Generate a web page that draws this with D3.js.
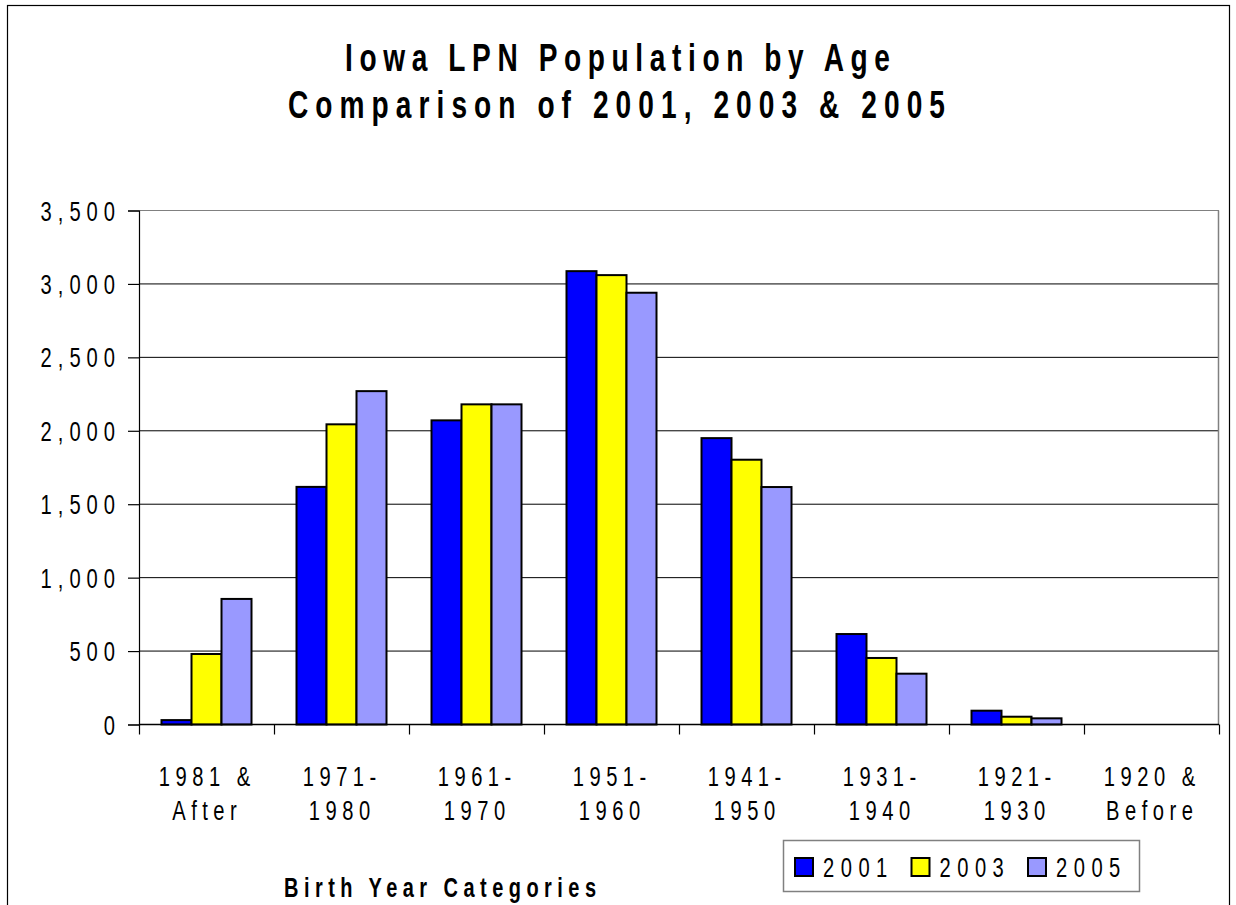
<!DOCTYPE html>
<html><head><meta charset="utf-8">
<script src="https://cdn.jsdelivr.net/npm/d3@7"></script>
<style>
body{margin:0;background:#fff;}
text{font-family:"Liberation Sans",Arial,sans-serif;fill:#000;}
</style></head>
<body><svg id="chart" width="1236" height="905"></svg>
<script>
const titleLines = ["Iowa LPN Population by Age", "Comparison of 2001, 2003 & 2005"];
const xTitle = "Birth Year Categories";
const categories = ["1981 & After", "1971- 1980", "1961- 1970", "1951- 1960", "1941- 1950", "1931- 1940", "1921- 1930", "1920 & Before"];
const categoryLines = [["1981 &","After"],["1971-","1980"],["1961-","1970"],["1951-","1960"],["1941-","1950"],["1931-","1940"],["1921-","1930"],["1920 &","Before"]];
const seriesNames = ["2001", "2003", "2005"];
const values2001 = [30, 1618, 2071, 3087, 1950, 616, 94, 0];
const values2003 = [480, 2044, 2180, 3060, 1803, 453, 53, 0];
const values2005 = [855, 2270, 2180, 2940, 1617, 346, 42, 0];
const seriesColors = ["#0000FF", "#FFFF00", "#9999FF"];
const yTicks = [0, 500, 1000, 1500, 2000, 2500, 3000, 3500];

const seriesValues = [values2001, values2003, values2005];
const svg = d3.select("#chart");

// narrow text helper: horizontally condensed Liberation Sans with spacing
function label(parent, x, y, str, o) {
  const sx = o.sx || 0.72, ls = o.ls || 0, anchor = o.anchor || "start";
  const shift = anchor === "middle" ? ls / 2 : anchor === "end" ? ls : 0;
  const g = parent.append("g").attr("transform", `translate(${x + shift},${y}) scale(${sx},1)`);
  const t = g.append("text").attr("text-anchor", anchor)
    .style("font-size", o.size + "px").style("font-weight", o.weight || "normal")
    .style("letter-spacing", (ls / sx) + "px").text(str);
  if (o.width) t.attr("textLength", o.width / sx).attr("lengthAdjust", "spacing");
  return t;
}

// outer border
svg.append("rect").attr("x",7.5).attr("y",5.5).attr("width",1222).attr("height",910)
  .attr("fill","none").attr("stroke","#000").attr("stroke-width",1.2);

const pLeft = 139, pRight = 1219, pTop = 210.5, pBottom = 724.5;
const x = d3.scaleBand().domain(categories).range([pLeft, pRight]).paddingInner(1/3).paddingOuter(1/6);
const xs = d3.scaleBand().domain(seriesNames).range([0, x.bandwidth()]);
const y = d3.scaleLinear().domain([0, 3500]).range([pBottom, pTop]);
const fmt = d3.format(",");

// gridlines
svg.append("g").selectAll("line").data(yTicks.filter(d => d > 0)).join("line")
  .attr("x1", pLeft).attr("x2", pRight).attr("y1", d => y(d)).attr("y2", d => y(d))
  .attr("stroke", d => d === 3500 ? "#808080" : "#000").attr("stroke-width", 1);
// right border of plot area
svg.append("line").attr("x1", pRight-0.5).attr("x2", pRight-0.5).attr("y1", pTop).attr("y2", pBottom)
  .attr("stroke","#808080").attr("stroke-width",1.5);

// bars
const groups = svg.append("g").selectAll("g").data(categories).join("g")
  .attr("transform", d => `translate(${x(d)},0)`);
groups.selectAll("rect").data((d, i) => seriesNames.map((s, j) => ({s, v: seriesValues[j][i], j})))
  .join("rect")
  .filter(d => d.v > 0)
  .attr("x", d => xs(d.s)).attr("width", xs.bandwidth())
  .attr("y", d => y(d.v)).attr("height", d => y(0) - y(d.v))
  .attr("fill", d => seriesColors[d.j]).attr("stroke", "#000").attr("stroke-width", 2);

// y axis
const yAxis = d3.axisLeft(y).tickValues(yTicks).tickSize(11).tickPadding(0).tickFormat(fmt);
const yg = svg.append("g").attr("transform", `translate(${pLeft},0)`).call(yAxis);
yg.select(".domain").attr("stroke","#000").attr("stroke-width",1.2);
yg.selectAll(".tick line").attr("stroke","#000").attr("stroke-width",1.2);
yg.selectAll(".tick text").remove();
const ylab = svg.append("g");
yTicks.forEach(d => label(ylab, 115, y(d) + 10, fmt(d), {size: 28, anchor: "end", ls: 6}));

// x axis
const xAxisScale = d3.scaleLinear().domain([0, categories.length]).range([pLeft, pRight]);
const xg = svg.append("g").attr("transform", `translate(0,${pBottom})`)
  .call(d3.axisBottom(xAxisScale).tickValues(d3.range(0, categories.length + 1)).tickSize(10).tickFormat(""));
xg.select(".domain").attr("stroke","#000").attr("stroke-width",1.5).attr("d", `M${pLeft},0H${pRight}`);
xg.selectAll(".tick line").attr("stroke","#000").attr("stroke-width",1.2);

// category labels
const cl = svg.append("g");
categories.forEach((c, i) => {
  const cx = x(c) + x.bandwidth() / 2 - 2;
  categoryLines[i].forEach((ln, k) => label(cl, cx, 786 + k * 34, ln, {size: 28, anchor: "middle", ls: 5.5}));
});

// titles
const tg = svg.append("g");
label(tg, 617.5, 71, titleLines[0], {size: 38, weight: "bold", anchor: "middle", width: 545, sx: 0.74});
label(tg, 616.5, 118, titleLines[1], {size: 38, weight: "bold", anchor: "middle", width: 657, sx: 0.74});
label(tg, 440, 897, xTitle, {size: 27, weight: "bold", anchor: "middle", width: 312, sx: 0.74});

// legend
const lg = svg.append("g");
lg.append("rect").attr("x", 783.5).attr("y", 840.5).attr("width", 356).attr("height", 51)
  .attr("fill","#fff").attr("stroke","#808080").attr("stroke-width",1.5);
const li = lg.selectAll("g").data(seriesNames).join("g")
  .attr("transform", (d, i) => `translate(${795 + i * 116.5},858)`);
li.append("rect").attr("width",18).attr("height",18).attr("fill",(d,i)=>seriesColors[i])
  .attr("stroke","#000").attr("stroke-width",2);
li.each(function(d) { label(d3.select(this), 28, 19, d, {size: 28, ls: 6.5}); });
</script></body></html>
